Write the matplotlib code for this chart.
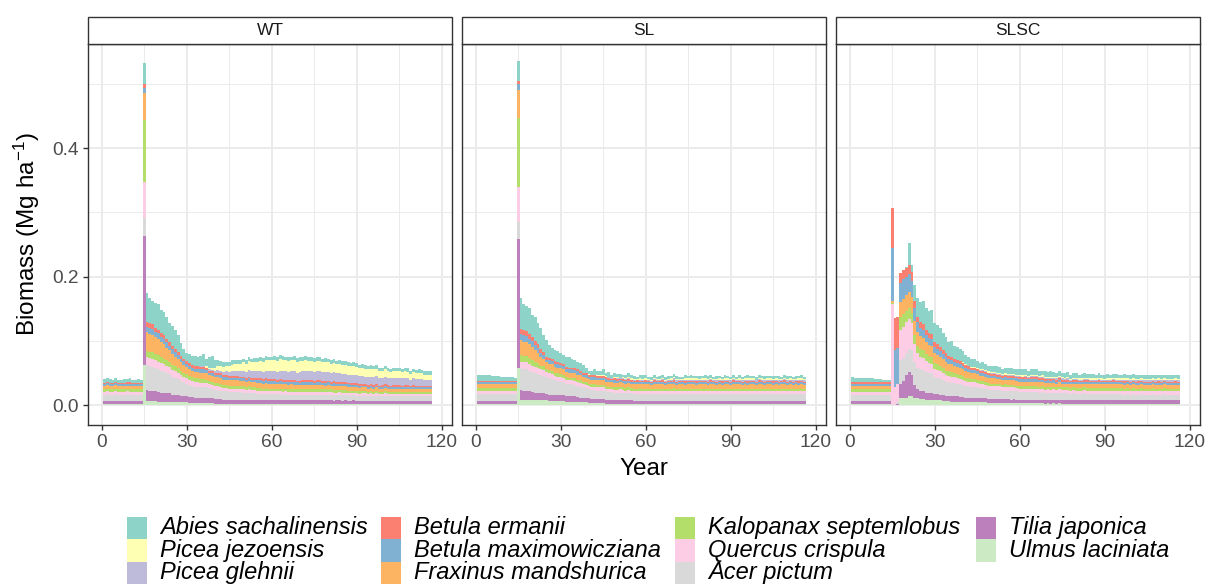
import numpy as np
import matplotlib
matplotlib.use("Agg")
import matplotlib.pyplot as plt
from matplotlib.patches import Rectangle

plt.rcParams['font.family'] = ['Liberation Sans', 'DejaVu Sans']
plt.rcParams['mathtext.fontset'] = 'custom'
plt.rcParams['mathtext.rm'] = 'Liberation Sans'
plt.rcParams['mathtext.it'] = 'Liberation Sans:italic'
plt.rcParams['mathtext.default'] = 'regular'

# ---------------- data (biomass in 0.001 Mg/ha, years 1..116) ----------------
YEARS = np.arange(1, 117)
PANELS = ["WT", "SL", "SLSC"]
SPECIES = ["Abies sachalinensis", "Picea jezoensis", "Picea glehnii",
           "Betula ermanii", "Betula maximowicziana", "Fraxinus mandshurica",
           "Kalopanax septemlobus", "Quercus crispula", "Acer pictum",
           "Tilia japonica", "Ulmus laciniata"]
COLORS = ["#8DD3C7", "#FFFFB3", "#BEBADA", "#FB8072", "#80B1D3", "#FDB462",
          "#B3DE69", "#FCCDE5", "#D9D9D9", "#BC80BD", "#CCEBC5"]
X_TICKS = [0, 30, 60, 90, 120]
Y_TICKS = [0.0, 0.2, 0.4]
Y_TICK_LABELS = ["0.0", "0.2", "0.4"]

# ---- WT ----
WT_ABIES = [6,5,6,5,6,5,5,6,5,6,5,5,6,5,
    33,
    45,39,36,39,39,36,37,35,30,31,
    30,27,20,14,13,14,14,16,14,15,
    18,12,16,18,12,10,8,8,5,7,
    7,7,6,6,6,6,7,6,6,6,
    6,6,7,6,6,7,6,6,7,6,
    6,6,7,6,6,6,7,6,6,6,
    6,6,6,7,6,6,6,5,6,6,
    6,6,5,6,6,5,6,6,5,6,
    5,6,5,5,6,5,5,6,5,5,
    5,5,6,5,5,5,6,5,5,5,
    5]
WT_PJEZ = [0,0,0,0,0,0,0,0,0,0,0,0,0,0,
    0,
    0,0,0,0,0,0,0,0,0,0,
    0,0,0,0,0,0,0,0,1,1,
    1,2,3,4,5,6,7,8,9,9,
    10,11,11,12,13,13,14,14,15,15,
    16,16,16,17,17,17,17,18,17,17,
    17,17,17,17,17,16,17,16,16,16,
    16,16,15,15,15,15,14,14,14,14,
    14,13,13,13,13,12,12,12,12,12,
    12,11,11,11,11,11,10,10,10,10,
    10,10,9,9,9,9,9,9,8,8,
    8]
WT_PGLE = [0,0,0,0,0,0,0,0,0,0,0,0,0,0,
    0,
    0,0,0,0,0,0,0,0,0,0,
    0,0,0,0,0,0,0,0,0,1,
    1,1,2,2,3,4,4,5,6,6,
    7,7,8,8,9,9,10,10,10,11,
    11,11,12,12,12,12,13,13,13,13,
    13,13,14,13,14,14,14,14,14,14,
    14,14,14,14,14,13,14,14,13,13,
    13,13,13,13,12,13,12,12,12,12,
    12,12,12,11,12,11,11,11,11,11,
    11,11,11,10,11,10,10,10,10,10,
    10]
WT_BERM = [2,2,2,2,2,2,2,2,2,2,2,2,2,2,
    6,
    8,8,7,7,6,6,6,5,5,5,
    5,5,4,4,4,4,4,4,4,4,
    4,3,3,3,3,3,3,3,3,3,
    3,3,3,3,3,3,3,3,3,3,
    3,3,3,3,3,3,2,3,3,3,
    3,3,3,2,3,3,3,3,3,3,
    3,3,3,3,2,3,3,3,3,3,
    3,2,3,3,3,3,3,2,3,3,
    3,3,2,3,3,3,2,3,3,3,
    2,3,3,2,3,3,2,3,2,2,
    2]
WT_BMAX = [3,3,3,3,3,3,3,3,3,3,3,3,3,3,
    8,
    8,9,9,8,9,8,8,8,7,7,
    7,6,6,6,5,5,5,5,5,5,
    5,5,4,4,4,4,4,4,4,4,
    4,4,4,4,4,4,4,4,4,4,
    4,4,4,4,4,4,4,4,4,4,
    4,4,4,4,3,4,4,4,4,3,
    4,4,3,4,4,3,4,3,4,3,
    3,4,3,3,4,3,3,3,3,3,
    3,3,3,3,3,3,3,3,3,3,
    3,3,3,3,3,3,3,3,3,3,
    3]
WT_FRAX = [5,6,5,5,6,5,5,5,5,6,5,5,5,5,
    42,
    29,28,27,26,25,24,22,20,18,17,
    15,14,13,12,11,11,10,10,10,10,
    10,10,9,9,9,9,9,8,8,8,
    8,8,8,8,8,8,8,8,8,8,
    8,8,8,8,8,8,7,8,8,7,
    7,8,7,7,7,7,7,7,7,7,
    7,7,7,6,7,6,7,6,6,6,
    6,6,6,6,6,5,6,6,5,5,
    5,6,5,5,5,5,5,5,5,5,
    5,5,5,4,5,4,5,4,4,4,
    4]
WT_KALO = [4,4,4,4,4,4,4,4,4,4,4,4,4,4,
    96,
    9,9,10,10,10,9,9,9,8,8,
    8,8,7,7,7,6,6,6,6,6,
    6,5,5,5,5,5,5,5,5,5,
    5,5,5,4,5,4,5,4,4,4,
    4,4,4,4,4,4,4,4,4,4,
    4,4,4,4,4,4,4,4,4,4,
    4,4,4,4,4,4,4,4,3,4,
    4,3,4,3,3,4,3,3,3,3,
    3,3,3,3,3,3,3,3,3,3,
    3,3,3,3,3,3,3,3,3,3,
    3]
WT_QUER = [4,4,4,4,4,4,4,4,4,4,4,4,4,4,
    56,
    13,13,13,12,12,12,11,11,11,10,
    10,9,9,8,8,8,7,7,7,7,
    7,7,6,6,6,6,6,5,5,5,
    5,5,5,5,5,5,5,5,5,5,
    5,4,5,4,4,4,4,4,4,4,
    4,4,4,4,4,4,4,4,4,4,
    4,4,4,4,4,4,4,4,4,4,
    4,4,4,4,4,3,4,4,3,4,
    3,4,3,3,4,3,3,3,3,3,
    3,3,3,3,3,3,3,3,3,3,
    3]
WT_ACER = [10,11,10,10,11,10,10,10,11,10,10,10,10,10,
    28,
    39,38,37,36,35,34,33,31,30,28,
    26,25,23,21,20,19,18,17,17,16,
    16,16,15,15,14,14,13,13,13,12,
    12,12,12,12,11,11,11,11,11,10,
    10,10,10,10,10,10,10,10,9,10,
    9,9,9,9,9,9,9,9,9,9,
    9,9,9,9,9,9,9,8,9,9,
    8,9,8,8,8,8,8,8,8,8,
    8,8,8,8,8,8,8,8,8,8,
    8,8,8,8,8,8,8,8,8,8,
    8]
WT_TILIA = [5,5,5,5,5,5,5,5,5,5,5,5,5,5,
    200,
    17,16,16,15,15,14,14,13,13,12,
    12,11,10,10,9,9,9,8,8,8,
    8,8,8,7,7,7,7,6,6,6,
    6,6,6,6,6,5,6,5,5,5,
    5,5,5,5,5,5,5,5,5,5,
    5,5,5,5,5,5,5,5,5,5,
    5,5,5,5,5,5,4,5,5,4,
    5,4,4,5,4,4,4,4,4,4,
    4,4,4,4,4,4,4,4,4,4,
    4,4,4,4,4,4,4,4,4,4,
    4]
WT_ULMUS = [2,2,2,2,2,2,2,2,2,2,2,2,2,2,
    63,
    7,7,7,7,6,6,6,6,6,5,
    5,5,5,5,5,4,4,4,4,4,
    4,4,4,4,3,3,3,3,3,3,
    3,3,3,3,3,3,3,3,3,3,
    3,3,3,3,3,3,3,3,3,3,
    3,3,3,3,3,3,3,3,3,3,
    3,3,3,3,3,3,3,3,3,3,
    3,3,3,3,3,3,3,3,3,3,
    3,3,3,3,3,3,3,3,3,3,
    3,3,3,3,3,3,3,3,3,3,
    3]

# ---- SL ----
SL_ABIES = [9,9,9,9,9,8,8,8,7,7,6,6,6,5,
    31,
    48,40,38,40,34,38,33,33,27,26,
    20,16,17,16,16,15,15,16,14,13,
    12,12,12,8,5,6,8,7,6,9,
    5,7,5,6,5,6,4,5,6,5,
    5,4,5,6,5,4,5,5,4,5,
    4,5,5,4,5,5,4,4,5,4,
    5,4,4,5,4,5,5,4,4,5,
    4,4,5,4,4,5,4,5,4,4,
    5,4,4,5,4,4,5,4,4,5,
    4,5,4,4,5,4,4,5,4,5,
    4]
SL_PJEZ = [0,0,0,0,0,0,0,0,0,0,0,0,0,0,
    0,
    0,0,0,0,0,0,0,0,0,0,
    0,0,0,0,0,0,0,0,0,0,
    0,0,0,0,1,1,1,1,1,1,
    1,1,1,1,2,1,2,1,2,2,
    2,1,2,2,2,1,2,2,2,1,
    2,2,1,2,2,2,2,1,2,2,
    2,2,2,1,2,2,2,2,1,2,
    2,1,2,2,2,2,1,2,2,2,
    2,2,2,1,2,2,2,2,2,1,
    2,2,1,2,2,2,2,1,2,2,
    2]
SL_PGLE = [0,0,0,0,0,0,0,0,0,0,0,0,0,0,
    0,
    0,0,0,0,0,0,0,0,0,0,
    0,0,0,0,0,0,0,0,0,0,
    0,0,0,0,0,0,0,0,0,0,
    1,1,1,1,1,1,1,1,1,1,
    1,1,2,1,1,2,1,2,1,2,
    2,1,2,2,2,2,1,2,2,2,
    2,2,2,2,2,2,2,2,2,2,
    2,2,2,2,2,2,2,2,2,2,
    2,2,2,2,2,2,2,2,2,2,
    2,2,2,2,2,2,2,2,2,2,
    2]
SL_BERM = [2,2,2,2,2,2,2,2,2,2,2,2,2,2,
    5,
    8,8,8,7,7,6,6,5,5,4,
    4,4,4,4,3,3,3,3,3,3,
    3,3,3,3,3,3,3,3,3,3,
    3,3,2,3,3,2,3,2,3,2,
    2,3,2,2,3,2,2,3,2,2,
    3,2,2,2,3,2,2,2,3,2,
    2,2,3,2,2,2,2,3,2,2,
    2,3,2,2,2,3,2,2,2,2,
    3,2,2,2,3,2,2,2,2,3,
    2,2,2,3,2,2,2,2,3,2,
    2]
SL_BMAX = [3,3,3,3,3,3,3,3,3,3,3,3,3,3,
    9,
    10,10,9,9,9,8,7,6,5,4,
    5,5,5,5,5,5,5,5,5,5,
    5,4,4,4,4,4,4,4,4,4,
    4,4,3,4,3,3,3,4,3,3,
    3,3,3,3,3,3,3,3,3,3,
    3,3,3,3,3,3,3,3,3,3,
    3,3,3,3,3,3,3,3,3,3,
    3,3,3,3,3,3,3,3,3,3,
    3,3,3,3,3,3,3,3,3,3,
    3,3,3,3,3,3,3,3,3,3,
    3]
SL_FRAX = [6,6,6,6,6,6,6,6,6,6,6,6,6,6,
    44,
    23,22,22,21,20,18,16,14,12,10,
    10,10,9,9,9,9,8,8,8,8,
    8,8,7,7,7,7,7,7,7,7,
    7,7,7,7,7,7,7,7,7,7,
    7,7,6,7,7,7,6,7,7,7,
    7,6,7,7,7,6,7,7,6,7,
    7,7,6,7,7,7,6,7,7,6,
    7,6,7,7,6,7,7,7,6,7,
    6,7,7,6,7,7,6,7,7,6,
    7,6,7,7,6,7,6,7,6,7,
    6]
SL_KALO = [4,4,4,4,4,4,4,4,4,4,4,4,4,4,
    107,
    10,10,10,9,9,8,7,6,6,5,
    5,5,5,5,5,4,4,4,4,4,
    4,4,4,4,4,4,4,4,4,4,
    4,4,4,4,4,4,4,4,4,4,
    4,4,4,4,4,4,4,4,4,4,
    4,4,4,4,4,4,4,4,4,4,
    4,4,4,4,4,4,4,4,4,4,
    4,4,4,4,4,4,4,4,4,4,
    4,4,4,4,4,4,4,4,4,4,
    4,4,4,4,4,4,4,4,4,4,
    4]
SL_QUER = [5,5,5,5,5,5,5,5,5,5,5,5,5,5,
    54,
    10,11,11,11,10,10,10,9,9,8,
    8,8,7,7,7,7,6,6,6,6,
    6,6,5,5,5,5,5,5,5,5,
    4,4,4,4,4,5,4,4,4,4,
    4,4,5,4,4,4,4,4,4,4,
    4,4,4,4,5,4,4,4,4,4,
    4,4,4,4,4,4,4,4,4,4,
    4,4,4,4,4,4,4,4,4,4,
    4,4,4,4,4,4,4,4,4,4,
    4,4,4,4,4,4,4,4,4,4,
    4]
SL_ACER = [11,11,11,11,11,11,11,11,11,11,11,11,11,11,
    26,
    34,33,33,32,31,30,29,28,27,26,
    25,24,23,22,21,20,20,19,19,18,
    17,17,16,15,14,14,14,13,13,13,
    13,12,12,12,12,12,12,11,12,11,
    11,11,11,11,11,11,11,11,11,11,
    11,11,11,11,11,11,11,11,11,11,
    11,11,11,11,11,11,11,11,11,11,
    11,11,11,11,11,11,11,11,11,11,
    11,11,11,11,11,11,11,11,11,11,
    11,11,11,11,11,11,11,11,11,11,
    11]
SL_TILIA = [5,5,5,5,5,5,5,5,5,5,5,5,5,5,
    200,
    16,15,15,14,13,12,12,11,11,10,
    10,10,9,9,9,9,8,8,8,8,
    8,7,7,7,7,6,6,6,6,6,
    6,6,6,5,5,5,5,5,5,5,
    5,5,5,5,5,5,5,5,5,5,
    5,5,5,5,5,5,5,5,5,5,
    5,5,5,5,5,5,5,5,5,5,
    5,5,5,5,5,5,5,5,5,5,
    5,5,5,5,5,5,5,5,5,5,
    5,5,5,5,5,5,5,5,5,5,
    5]
SL_ULMUS = [2,2,2,2,2,2,2,2,2,2,2,2,2,2,
    59,
    8,8,8,8,8,8,8,8,8,8,
    7,7,7,7,7,7,6,6,6,6,
    5,5,5,5,4,4,4,4,4,4,
    3,3,3,3,3,3,3,3,3,3,
    2,2,2,2,2,2,2,2,2,2,
    2,2,2,2,2,2,2,2,2,2,
    2,2,2,2,2,2,2,2,2,2,
    2,2,2,2,2,2,2,2,2,2,
    2,2,2,2,2,2,2,2,2,2,
    2,2,2,2,2,2,2,2,2,2,
    2]

# ---- SLSC ----
SLSC_ABIES = [8,7,6,6,6,7,7,6,5,5,5,4,4,4,
    0,
    0,0,0,0,2,33,10,25,30,32,
    35,33,34,37,30,30,30,27,25,22,
    24,20,20,18,17,15,14,12,12,11,
    10,11,9,9,9,9,10,9,8,9,
    9,10,8,9,8,9,8,8,9,8,
    8,8,7,8,7,8,7,7,8,7,
    7,8,7,7,7,6,7,7,6,7,
    7,6,7,6,7,7,6,6,7,6,
    6,7,6,6,7,6,6,6,7,6,
    6,6,7,6,6,6,6,7,6,6,
    6]
SLSC_PJEZ = [0,0,0,0,0,0,0,0,0,0,0,0,0,0,
    0,
    0,0,0,0,0,0,0,0,0,0,
    0,0,0,0,0,0,0,0,0,0,
    0,0,0,0,1,1,1,1,1,1,
    1,1,2,2,2,2,2,2,2,2,
    2,2,2,2,2,2,2,2,2,2,
    2,2,2,2,2,2,2,2,2,2,
    2,2,1,2,2,2,2,2,2,2,
    2,2,2,2,1,2,2,2,2,2,
    2,2,2,2,2,2,1,2,2,2,
    2,2,2,2,2,2,2,2,2,2,
    2]
SLSC_PGLE = [0,0,0,0,0,0,0,0,0,0,0,0,0,0,
    0,
    0,0,0,0,0,0,0,0,0,0,
    0,0,0,0,0,0,0,0,0,0,
    0,0,0,0,0,0,0,0,0,0,
    1,1,1,1,1,1,1,1,1,1,
    1,1,1,1,2,1,2,1,2,2,
    2,2,2,2,2,2,2,2,2,2,
    2,2,2,2,2,2,2,2,2,2,
    2,2,2,2,2,2,2,2,2,2,
    2,2,2,2,2,2,2,2,2,2,
    2,2,2,2,2,2,2,2,2,2,
    2]
SLSC_BERM = [2,2,2,2,2,2,2,2,2,2,2,2,2,2,
    62,
    50,48,16,15,14,14,14,10,8,8,
    9,8,8,8,7,7,6,6,6,5,
    5,5,5,5,4,4,4,4,4,3,
    3,3,3,3,3,3,3,3,3,3,
    3,3,3,3,3,3,3,2,3,3,
    3,2,3,3,2,3,2,3,2,3,
    2,3,2,2,3,2,2,2,3,2,
    2,2,3,2,2,2,2,3,2,2,
    2,3,2,2,2,2,3,2,2,2,
    2,2,2,3,2,2,2,2,2,3,
    2]
SLSC_BMAX = [3,3,3,3,3,3,3,3,3,3,3,3,3,3,
    83,
    57,55,29,30,28,28,26,20,15,13,
    13,12,11,11,10,9,9,8,8,7,
    7,7,6,6,6,6,5,5,5,5,
    5,5,4,4,4,4,4,4,4,4,
    4,4,4,4,4,4,4,4,4,4,
    4,4,4,3,4,3,4,3,4,3,
    3,3,3,3,3,3,3,3,3,3,
    3,3,3,3,3,3,3,3,3,3,
    3,3,3,3,3,3,3,3,3,3,
    3,3,3,3,3,3,3,3,3,3,
    3]
SLSC_FRAX = [6,6,6,6,6,6,6,6,6,6,6,6,6,6,
    3,
    0,0,23,24,24,25,24,22,21,20,
    19,18,17,17,15,15,14,14,13,12,
    12,11,11,11,10,10,10,9,9,9,
    8,8,8,8,8,8,7,7,7,7,
    7,7,7,7,7,7,7,7,7,7,
    7,7,6,7,6,7,6,6,7,6,
    6,6,6,6,6,6,6,6,6,6,
    6,6,6,6,6,6,6,6,6,6,
    6,6,6,6,6,6,6,6,6,6,
    6,6,6,6,6,6,6,6,6,6,
    6]
SLSC_KALO = [4,4,4,4,4,4,4,4,4,4,4,4,4,4,
    1,
    0,0,21,20,18,18,16,14,12,12,
    12,11,11,10,9,9,8,8,7,7,
    7,6,6,6,6,5,5,5,5,5,
    5,5,5,4,4,4,4,4,4,4,
    4,4,4,4,4,4,4,4,4,4,
    4,4,4,4,4,4,4,4,4,4,
    4,4,4,4,4,4,4,4,4,4,
    4,4,4,4,4,4,4,4,4,4,
    4,4,4,4,4,4,4,4,4,4,
    4,4,4,4,4,4,4,4,4,4,
    4]
SLSC_QUER = [4,4,4,4,4,4,4,4,4,4,4,4,4,4,
    158,
    26,28,47,48,47,46,42,28,22,20,
    19,17,16,15,13,12,12,11,10,10,
    10,9,9,8,8,8,7,7,7,7,
    6,6,6,6,6,6,6,6,5,6,
    5,6,5,5,5,5,5,5,5,5,
    5,5,5,5,5,5,5,5,5,5,
    5,5,5,5,5,5,5,5,5,5,
    5,5,5,5,5,5,5,5,5,5,
    5,5,5,5,5,5,5,5,5,5,
    5,5,5,5,5,5,5,5,5,5,
    5]
SLSC_ACER = [10,10,10,10,10,10,10,10,10,10,10,10,10,10,
    0,
    3,4,36,36,35,36,38,36,34,33,
    33,32,30,30,26,25,25,23,22,21,
    21,21,20,20,19,18,18,17,17,16,
    16,16,15,15,14,14,14,14,13,13,
    13,13,13,13,12,12,12,12,12,12,
    12,11,12,11,11,11,11,11,11,11,
    11,11,10,11,10,10,10,11,10,10,
    10,10,10,10,10,10,10,10,10,10,
    10,9,10,9,10,9,9,10,9,9,
    9,10,9,9,9,10,9,9,9,9,
    9]
SLSC_TILIA = [5,5,5,5,5,5,5,5,5,5,5,5,5,5,
    0,
    0,2,23,26,35,38,34,20,14,13,
    12,11,11,11,10,10,9,9,8,8,
    8,8,8,7,7,7,7,7,7,7,
    6,6,6,6,6,6,6,6,6,6,
    6,5,6,5,5,5,5,5,5,5,
    5,5,5,5,5,5,5,5,5,5,
    5,5,5,5,5,5,5,5,5,5,
    5,5,5,5,5,5,5,5,5,5,
    5,5,5,5,5,5,5,5,5,5,
    5,5,5,5,5,5,5,5,5,5,
    5]
SLSC_ULMUS = [2,2,2,2,2,2,2,2,2,2,2,2,2,2,
    0,
    0,0,11,12,12,14,14,12,11,10,
    10,9,9,9,8,8,8,7,7,7,
    6,6,6,6,6,5,5,5,5,5,
    5,5,5,4,4,4,4,4,4,4,
    4,4,4,4,4,4,4,4,4,4,
    4,4,4,3,4,3,4,3,4,3,
    3,3,3,3,3,3,3,3,3,3,
    3,3,3,3,3,3,3,3,3,3,
    3,3,3,3,3,3,3,3,3,3,
    3,3,3,3,3,3,3,3,3,3,
    3]

PANEL_DATA = {
    "WT": [WT_ABIES, WT_PJEZ, WT_PGLE, WT_BERM, WT_BMAX, WT_FRAX,
           WT_KALO, WT_QUER, WT_ACER, WT_TILIA, WT_ULMUS],
    "SL": [SL_ABIES, SL_PJEZ, SL_PGLE, SL_BERM, SL_BMAX, SL_FRAX,
           SL_KALO, SL_QUER, SL_ACER, SL_TILIA, SL_ULMUS],
    "SLSC": [SLSC_ABIES, SLSC_PJEZ, SLSC_PGLE, SLSC_BERM, SLSC_BMAX, SLSC_FRAX,
             SLSC_KALO, SLSC_QUER, SLSC_ACER, SLSC_TILIA, SLSC_ULMUS],
}
for k, v in PANEL_DATA.items():
    for i, s in enumerate(v):
        if len(s) != len(YEARS):
            print("LENGTH MISMATCH", k, SPECIES[i], len(s))

# ---------------- layout ----------------
W, H = 1217, 588
fig = plt.figure(figsize=(W / 100, H / 100), dpi=100)
fig.patch.set_facecolor("white")

PANEL_X = [(88, 452), (462, 826), (836, 1200)]
PANEL_TOP, PANEL_BOT = 44, 425
STRIP_TOP = 17
BORDER = "#333333"
GRID = "#EBEBEB"


def fx(px):
    return px / W


def fy(py):
    return 1 - py / H


for p, (name, (x0, x1)) in enumerate(zip(PANELS, PANEL_X)):
    ax = fig.add_axes([fx(x0), fy(PANEL_BOT), (x1 - x0) / W, (PANEL_BOT - PANEL_TOP) / H])
    series = PANEL_DATA[name]
    bottom = np.zeros(len(YEARS))
    # stack: last legend entry at the bottom, first on top
    for idx in range(len(SPECIES) - 1, -1, -1):
        vals = np.array(series[idx], dtype=float) / 1000.0
        ax.bar(YEARS, vals, bottom=bottom, width=1.0, color=COLORS[idx],
               linewidth=0, zorder=2)
        bottom = bottom + vals

    ax.set_xlim(-4.8, 123.6)
    ax.set_ylim(-0.0303, 0.5616)
    ax.set_xticks(X_TICKS)
    ax.set_xticks([15, 45, 75, 105], minor=True)
    ax.set_yticks(Y_TICKS)
    ax.set_yticks([0.1, 0.3, 0.5], minor=True)
    ax.grid(True, which="major", color=GRID, linewidth=1.4, zorder=0)
    ax.grid(True, which="minor", color=GRID, linewidth=0.7, zorder=0)
    ax.set_axisbelow(True)
    for sp in ax.spines.values():
        sp.set_color(BORDER)
        sp.set_linewidth(1.0)
    ax.tick_params(which="minor", length=0)
    ax.tick_params(which="major", direction="out", length=3.6, width=1.0,
                   color=BORDER, labelcolor="#4D4D4D", labelsize=13.8, pad=2.9)
    ax.set_xticklabels([str(t) for t in X_TICKS])
    if p == 0:
        ax.set_yticklabels(Y_TICK_LABELS)
    else:
        ax.tick_params(axis="y", left=False, labelleft=False)

    # strip
    fig.add_artist(Rectangle((fx(x0), fy(PANEL_TOP)), (x1 - x0) / W,
                             (PANEL_TOP - STRIP_TOP) / H, transform=fig.transFigure,
                             facecolor="white", edgecolor=BORDER, linewidth=1.0))
    fig.text(fx((x0 + x1) / 2), fy((STRIP_TOP + PANEL_TOP) / 2), name,
             ha="center", va="center", fontsize=12.5, color="#1A1A1A")

# axis titles
fig.text(fx(27), fy(234), r"Biomass (Mg ha$^{-1}$)", rotation=90,
         ha="center", va="center", fontsize=17.5, color="black")
fig.text(fx(644), fy(475), "Year", ha="center", va="baseline",
         fontsize=17.5, color="black")

# legend (4 columns x 3 rows, column-major order)
COL_KEY_X = [127, 381, 675, 976]
ROW_TOP = [516.5, 539, 561.5]
KEY_W, KEY_H = 20, 22.5
for i, (sp, col) in enumerate(zip(SPECIES, COLORS)):
    c, r = divmod(i, 3)
    kx, ky = COL_KEY_X[c], ROW_TOP[r]
    fig.add_artist(Rectangle((fx(kx), fy(ky + KEY_H)), KEY_W / W, KEY_H / H,
                             transform=fig.transFigure, facecolor=col,
                             edgecolor="none"))
    fig.text(fx(kx + 33), fy(ky + KEY_H / 2), sp, ha="left", va="center",
             fontsize=17, style="italic", color="black")

fig.savefig("out.png", dpi=100, facecolor="white")
